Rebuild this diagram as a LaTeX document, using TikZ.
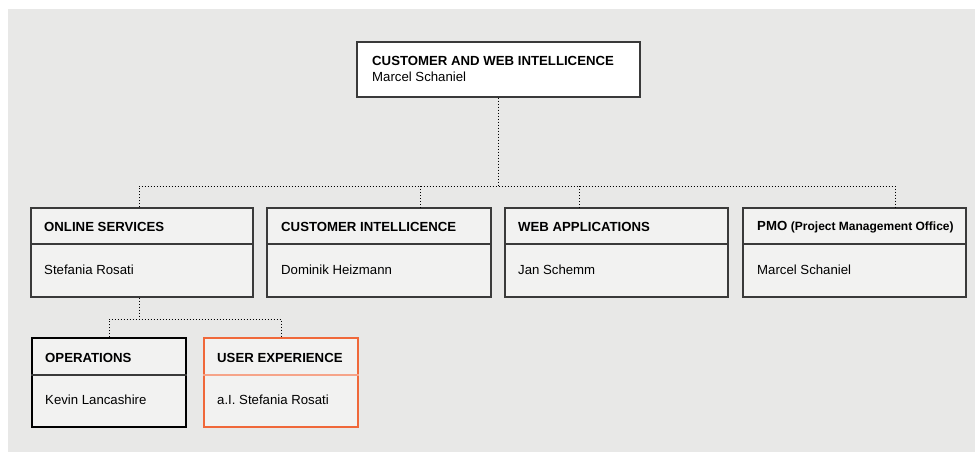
\documentclass[tikz,border=0pt]{standalone}
\usepackage{fontspec}
\setmainfont{Liberation Sans}
\definecolor{panel}{HTML}{E8E8E7}
\definecolor{boxfill}{HTML}{F2F2F1}
\definecolor{edge}{HTML}{3A3A3A}
\definecolor{accent}{HTML}{F0683A}

\begin{document}
\begin{tikzpicture}[x=1pt,y=-1pt,
	unit/.style={draw=edge, line width=1.2pt, fill=boxfill, minimum width=223pt, minimum height=89pt, inner sep=0pt},
	unithead/.style={anchor=west, inner sep=0pt, font=\fontsize{13.2}{15}\selectfont\bfseries},
	unitperson/.style={anchor=west, inner sep=0pt, font=\fontsize{13.2}{15}\selectfont},
	link/.style={dotted, line width=1pt, black}]
	\useasboundingbox (0,0) rectangle (975,452);
	\fill[panel] (8,9) rectangle (975,452);
	% head of the department
	\node[unit, fill=white, minimum width=283pt, minimum height=55pt] (top) at (498.5,69.5) {};
	\node[unithead] at (372,61) {CUSTOMER AND WEB INTELLICENCE};
	\node[unitperson] at (372,77) {Marcel Schaniel};
	% second level
	\node[unit, minimum width=222pt] (os) at (142,252.5) {};
	\node[unit, minimum width=224pt] (ci) at (379,252.5) {};
	\node[unit] (wa) at (616.5,252.5) {};
	\node[unit] (pmo) at (854.5,252.5) {};
	\foreach \u in {os,ci,wa,pmo}
		\draw[edge, line width=1.2pt] (\u.west |- 0,244) -- (\u.east |- 0,244);
	\node[unithead] at (44,227) {ONLINE SERVICES};
	\node[unitperson] at (44,270) {Stefania Rosati};
	\node[unithead] at (281,227) {CUSTOMER INTELLICENCE};
	\node[unitperson] at (281,270) {Dominik Heizmann};
	\node[unithead] at (518,227) {WEB APPLICATIONS};
	\node[unitperson] at (518,270) {Jan Schemm};
	\node[unithead] at (757,227) {PMO \fontsize{12}{14}\selectfont(Project Management Office)};
	\node[unitperson] at (757,270) {Marcel Schaniel};
	% third level
	\node[unit, draw=black, minimum width=154pt] (ops) at (109,382.5) {};
	\draw[edge, line width=1.2pt] (ops.west |- 0,375) -- (ops.east |- 0,375);
	\node[unit, draw=accent, minimum width=154pt] (ux) at (281,382.5) {};
	\draw[accent!60, line width=1.2pt] (ux.west |- 0,375) -- (ux.east |- 0,375);
	\node[unithead] at (45,358) {OPERATIONS};
	\node[unitperson] at (45,400) {Kevin Lancashire};
	\node[unithead] at (217,358) {USER EXPERIENCE};
	\node[unitperson] at (217,400) {a.I. Stefania Rosati};
	% dotted reporting lines
	\coordinate (busL) at (139,186);
	\coordinate (busR) at (895,186);
	\coordinate (d2) at (420,186);
	\coordinate (d3) at (579,186);
	\coordinate (sub) at (139,319);
	\draw[link] (top.south) -- (top.south |- busL);
	\draw[link] (os.north -| busL) -- (busL) -- (busR) -- (busR |- pmo.north);
	\draw[link] (d2) -- (d2 |- ci.north);
	\draw[link] (d3) -- (d3 |- wa.north);
	\draw[link] (os.south -| sub) -- (sub);
	\draw[link] (ops.north) |- (sub) -| (ux.north);
\end{tikzpicture}
\end{document}
